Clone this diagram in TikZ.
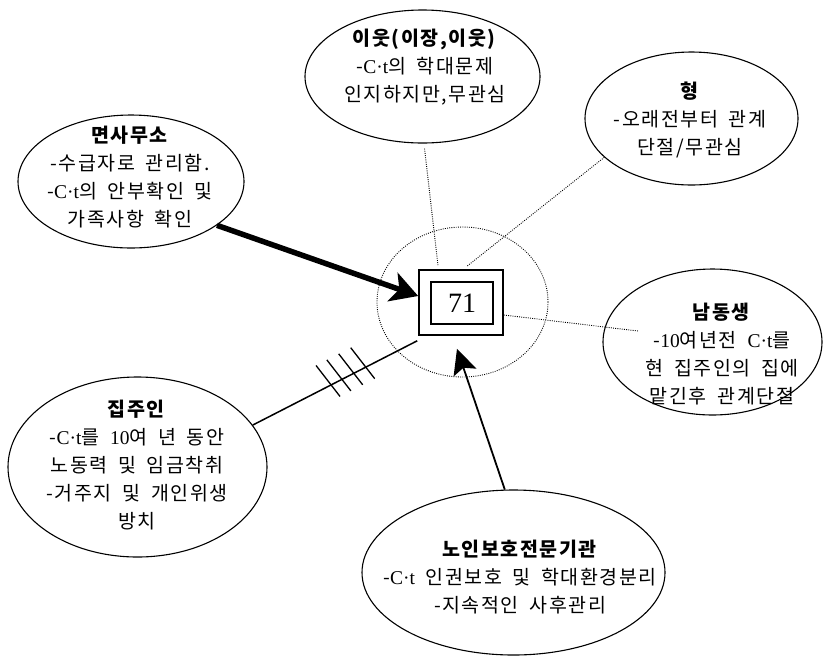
\documentclass[tikz,border=0pt]{standalone}
\usepackage{fontspec}
\newfontfamily\kr[LetterSpace=8,WordSpace=1.8]{Noto Sans CJK KR}
\newfontfamily\lat{Liberation Serif}
\usetikzlibrary{shapes.geometric,arrows.meta,calc}
\newcommand{\Ct}{{\lat C·t}}
\newcommand{\Ten}{{\lat 10}}
\begin{document}
\begin{tikzpicture}[x=1pt,y=-1pt,
  bub/.style={ellipse,draw,line width=1.1pt,inner sep=0pt},
  txt/.style={font=\kr\fontsize{19.5}{28}\selectfont,align=center,inner sep=0pt},
  dotline/.style={line width=0.9pt,dash pattern=on 0.9pt off 1.3pt},
  tick/.style={line width=1.3pt}]
\useasboundingbox (0,0) rectangle (829,657);

% outer ellipses
\node[bub,minimum width=235pt,minimum height=133pt] (e1) at (422.5,76.5) {};
\node[bub,minimum width=226pt,minimum height=133pt] (e2) at (131,181.5) {};
\node[bub,minimum width=213pt,minimum height=133pt] (e3) at (691.5,118.5) {};
\node[bub,minimum width=219pt,minimum height=146pt] (e5) at (712.5,342) {};
\node[bub,minimum width=259pt,minimum height=180pt] (e6) at (137.5,467) {};
\node[bub,minimum width=303pt,minimum height=165pt] (e7) at (513.5,572.5) {};

% texts
\node[txt] (t1) at (425,67.5) {\textbf{이웃(이장,이웃)}\\-\Ct 의 학대문제\\인지하지만,무관심};
\node[txt] (t2) at (130,177) {\textbf{면사무소}\\-수급자로 관리함.\\-\Ct 의 안부확인 및\\가족사항 확인};
\node[txt] (t3) at (690,120) {\textbf{형}\\-오래전부터 관계\\단절/무관심};
\node[txt] (t5) at (722,354.5) {\textbf{남동생}\\-\Ten 여년전 \Ct 를\\현 집주인의 집에\\맡긴후 관계단절};
\node[txt] (t6) at (137,465) {\textbf{집주인}\\-\Ct 를 \Ten 여 년 동안\\노동력 및 임금착취\\-거주지 및 개인위생\\방치};
\node[txt] (t7) at (520,577.5) {\textbf{노인보호전문기관}\\-\Ct\ 인권보호 및 학대환경분리\\-지속적인 사후관리};

% centre
\node[draw,dotline,ellipse,minimum width=171pt,minimum height=150pt,inner sep=0pt] (c) at (462.5,302) {};
\node[draw,line width=1.6pt,minimum width=84pt,minimum height=65pt,inner sep=0pt] (box) at (461,302.5) {};
\node[draw,line width=1.4pt,minimum width=62pt,minimum height=42pt,inner sep=0pt,
      font=\lat\fontsize{28}{28}\selectfont] (num) at (462,303) {71};

% dotted connectors
\draw[dotline] ([shift={(2,5)}]e1.south) -- ([shift={(-23,-4)}]box.north);
\draw[dotline] (e3.204) -- ([shift={(6,-3)}]box.north);
\draw[dotline] ([shift={(0,12.5)}]box.east) -- ([shift={(-74.5,-11)}]e5.center);

% thick arrow from e2
\draw[line width=5.5pt,-{Stealth[length=27pt,width=30pt,inset=7pt]}]
  (e2.-27) -- ([shift={(0,-6.5)}]box.west);

% arrow from e7
\draw[line width=1.8pt,-{Stealth[length=25pt,width=24pt,inset=5pt]}]
  (e7.96) -- ([shift={(-4,13)}]box.south);

% line from e6 with ticks
\draw[line width=1.5pt] (e6.20) -- ([shift={(-1,5)}]box.south west)
  coordinate[pos=0.482] (h1) coordinate[pos=0.548] (h2)
  coordinate[pos=0.620] (h3) coordinate[pos=0.693] (h4);
\foreach \h in {h1,h2,h3,h4}
  \draw[tick] ($(\h)+(-16,-19)$) -- ($(\h)+(8,12)$);
\end{tikzpicture}
\end{document}
